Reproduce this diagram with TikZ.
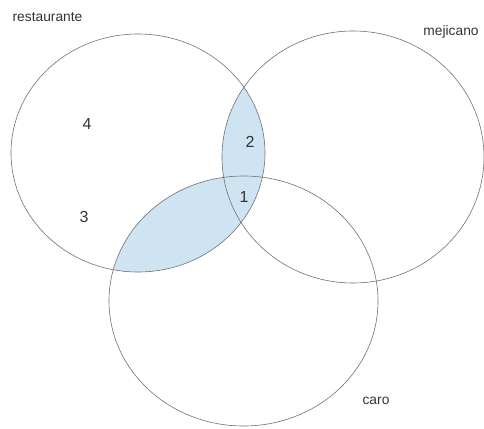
\documentclass[tikz,border=0pt]{standalone}
\usepackage{fontspec}
\setmainfont{Liberation Sans}
\usepackage{tikz}
\usetikzlibrary{positioning}
\definecolor{lensblue}{RGB}{207,228,242}
\definecolor{rimgray}{RGB}{112,112,112}

\begin{document}
\begin{tikzpicture}[
    x=1pt, y=-1pt,
    setline/.style={draw=rimgray, line width=0.6pt},
    setname/.style={font=\fontsize{13.8}{15}\selectfont, text=black!80},
    region/.style={font=\fontsize{16}{18}\selectfont, text=black!80}
]
\useasboundingbox (0,0) rectangle (484,428);

% Shaded part: restaurante with (mejicano or caro)
\begin{scope}
  \clip (138,153) ellipse [x radius=127pt, y radius=119pt];
  \fill[lensblue] (353,157) ellipse [x radius=131pt, y radius=126pt]
                  (243.5,301) ellipse [x radius=134.5pt, y radius=125pt];
\end{scope}

% The three sets
\draw[setline] (138,153) ellipse [x radius=127pt, y radius=119pt];
\draw[setline] (353,157) ellipse [x radius=131pt, y radius=126pt];
\draw[setline] (243.5,301) ellipse [x radius=134.5pt, y radius=125pt];

% Set names
\node[setname] (restaurante) at (47.5,17) {restaurante};
\node[setname] (mejicano) at (451,32) {mejicano};
\node[setname] (caro) at (376,401) {caro};

% Region numbers
\node[region] (r4) at (87,124) {4};
\node[region] (r3) at (84,217) {3};
\node[region] (r2) at (250,142) {2};
\node[region] (r1) at (244,197) {1};

\end{tikzpicture}
\end{document}
